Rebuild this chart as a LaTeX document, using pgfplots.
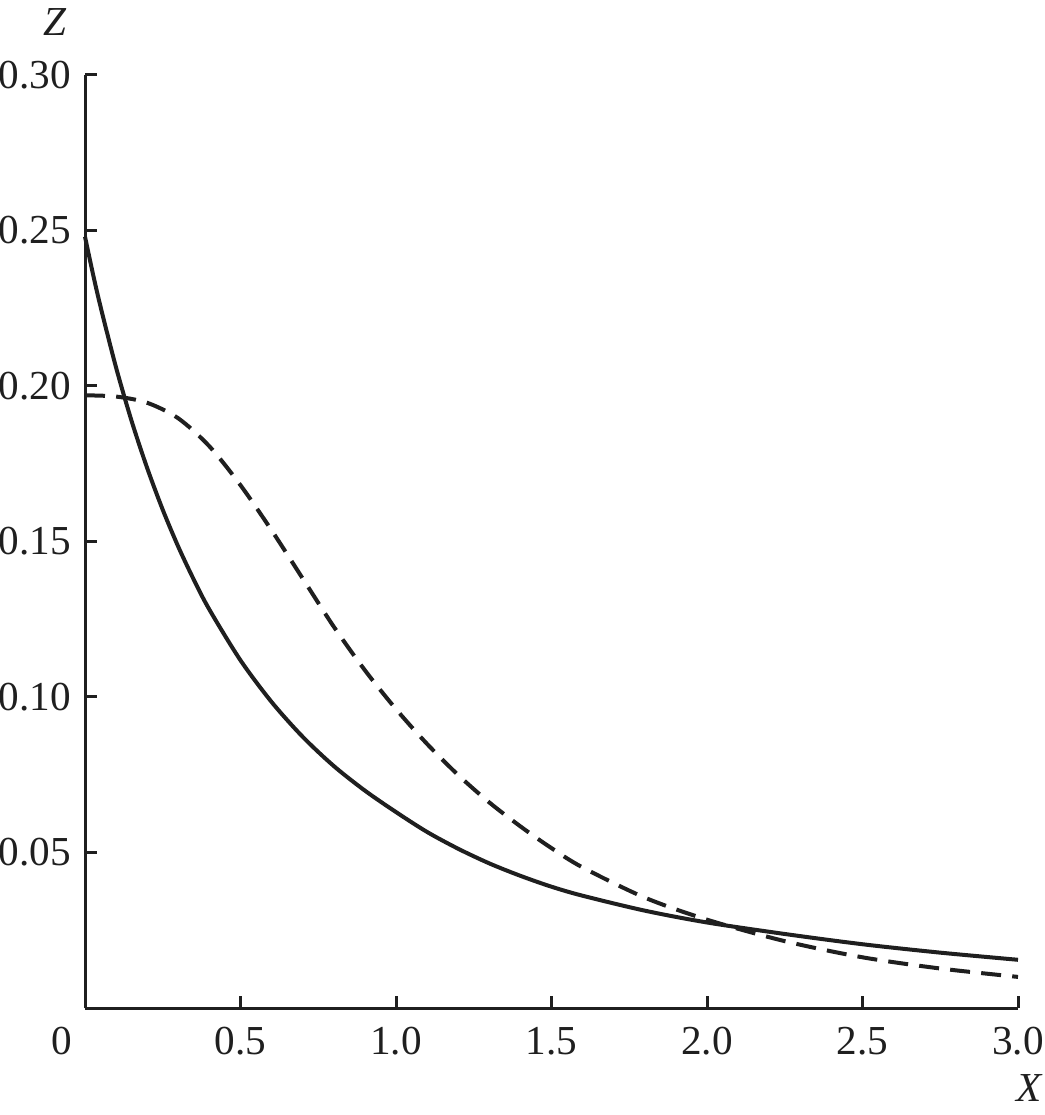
\documentclass[border=0pt]{standalone}
\usepackage{fontspec}
\setmainfont{Liberation Serif}
\usepackage{pgfplots}
\pgfplotsset{compat=1.18}
\begin{document}
\begin{tikzpicture}
\begin{axis}[
  at={(0,0)}, anchor=south west,
  scale only axis,
  width=233.25pt, height=233.25pt,
  xmin=0, xmax=3, ymin=0, ymax=0.30,
  axis lines*=left,
  axis line style={line width=0.75pt, black!88},
  every tick/.style={line width=0.75pt, black!88},
  tick align=inside,
  major tick length=3pt,
  xtick={0.5,1,1.5,2,2.5,3},
  xticklabels={0.5,1.0,1.5,2.0,2.5,3.0},
  extra x ticks={0},
  extra x tick labels={0},
  extra x tick style={major tick length=0pt, xticklabel style={xshift=-5.75pt}},
  ytick={0.05,0.10,0.15,0.20,0.25,0.30},
  yticklabels={0.05,0.10,0.15,0.20,0.25,0.30},
  ticklabel style={font=\fontsize{10.3}{12}\selectfont, text=black!88},
  xticklabel style={yshift=-1.25pt},
  /pgf/number format/assume math mode=true,
  clip=false,
]
\addplot[line width=1pt, black!88, smooth] coordinates {
(0,0.248) (0.025,0.2363) (0.05,0.2255) (0.1,0.2059) (0.15,0.1887) (0.2,0.1736)
(0.25,0.1602) (0.3,0.1483) (0.35,0.1377) (0.4,0.1281) (0.5,0.1118) (0.6,0.0984)
(0.7,0.0872) (0.8,0.0778) (0.9,0.0699) (1.0,0.0630) (1.1,0.0566) (1.2,0.0512)
(1.3,0.0465) (1.4,0.0425) (1.5,0.0390) (1.6,0.0361) (1.8,0.0313) (2.0,0.0275)
(2.25,0.0238) (2.5,0.0205) (2.75,0.0178) (3.0,0.0155)
};
\addplot[line width=1pt, black!88, smooth, dash pattern=on 5pt off 2.8pt] coordinates {
(0,0.1970) (0.1,0.1966) (0.2,0.1946) (0.3,0.1896) (0.4,0.1806) (0.5,0.1681)
(0.6,0.1536) (0.7,0.1381) (0.8,0.1226) (0.9,0.1086) (1.0,0.0961) (1.1,0.0849)
(1.2,0.0749) (1.3,0.0661) (1.4,0.0584) (1.5,0.0514) (1.6,0.0452) (1.8,0.0355)
(2.0,0.0284) (2.25,0.0215) (2.5,0.0163) (2.75,0.0127) (3.0,0.0100)
};
\node[font=\fontsize{10.3}{12}\selectfont\itshape, text=black!88, xshift=-7.5pt, yshift=13.25pt] at (rel axis cs:0,1) {Z};
\node[font=\fontsize{10.3}{12}\selectfont\itshape, text=black!88, xshift=2.75pt, yshift=-20pt] at (rel axis cs:1,0) {X};
\end{axis}
\pgfresetboundingbox
\path[use as bounding box] (-21.25pt,-26.75pt) rectangle (240pt,252pt);
\end{tikzpicture}
\end{document}
